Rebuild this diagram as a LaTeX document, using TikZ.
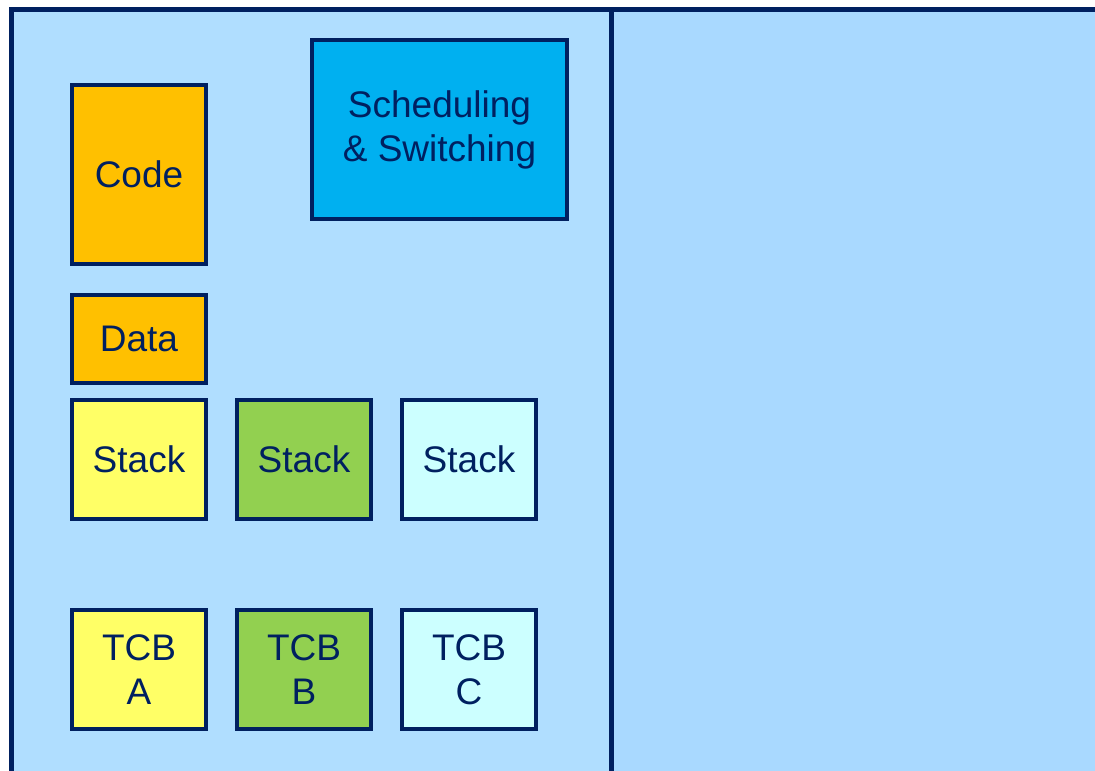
\documentclass[tikz,border=0pt]{standalone}
\usepackage{fontspec}
\setmainfont{Liberation Sans}
\definecolor{navy}{HTML}{002060}
\definecolor{leftbg}{HTML}{B0DEFF}
\definecolor{rightbg}{HTML}{A9D9FF}
\definecolor{orng}{HTML}{FFC000}
\definecolor{yell}{HTML}{FFFF66}
\definecolor{grn}{HTML}{92D050}
\definecolor{cyn}{HTML}{CCFFFF}
\definecolor{sched}{HTML}{00B0F0}
\tikzset{
  blk/.style={draw=navy, line width=4pt, text=navy, align=center, inner sep=0pt,
    font=\fontsize{37}{44}\selectfont, minimum width=134pt},
}
\begin{document}
\begin{tikzpicture}[x=1pt,y=-1pt]
\useasboundingbox (0,0) rectangle (1095,771);
\begin{scope}
\clip (0,0) rectangle (1095,771);
\fill[leftbg] (11.5,9.5) rectangle (611.5,800);
\fill[rightbg] (611.5,9.5) rectangle (1110,800);
\draw[navy, line width=5pt] (11.5,800) -- (11.5,9.5) -- (1110,9.5);
\draw[navy, line width=5pt] (611.5,9.5) -- (611.5,800);
\end{scope}
\node[blk, fill=orng, minimum height=179pt] (code) at (139,174.5) {Code};
\node[blk, fill=sched, minimum width=255pt, minimum height=179pt] (sched) at (439.5,129.5) {Scheduling\\\& Switching};
\node[blk, fill=orng, minimum height=88pt] (data) at (139,339) {Data};
\node[blk, fill=yell, minimum height=119pt] (stackA) at (139,459.5) {Stack};
\node[blk, fill=grn, minimum height=119pt] (stackB) at (304,459.5) {Stack};
\node[blk, fill=cyn, minimum height=119pt] (stackC) at (469,459.5) {Stack};
\node[blk, fill=yell, minimum height=119pt] (tcbA) at (139,669.5) {TCB\\A};
\node[blk, fill=grn, minimum height=119pt] (tcbB) at (304,669.5) {TCB\\B};
\node[blk, fill=cyn, minimum height=119pt] (tcbC) at (469,669.5) {TCB\\C};
\end{tikzpicture}
\end{document}
